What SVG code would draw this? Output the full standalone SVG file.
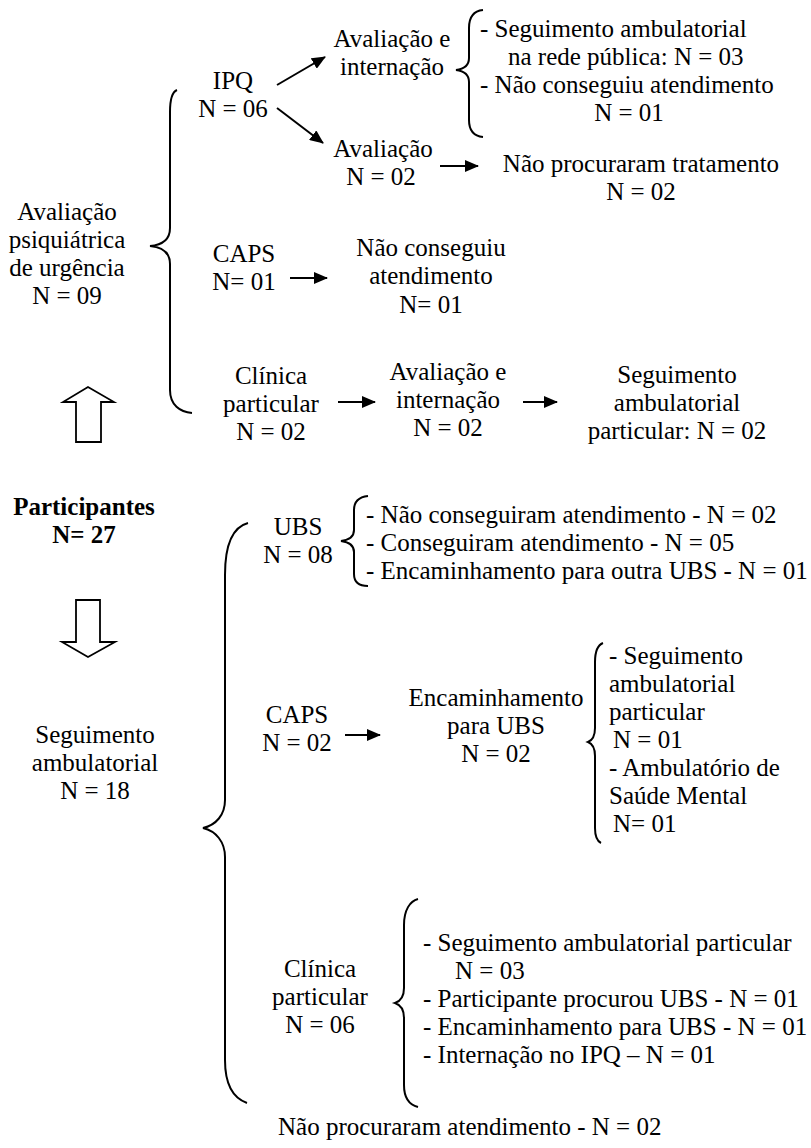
<svg xmlns="http://www.w3.org/2000/svg" width="811" height="1148" viewBox="0 0 811 1148">
<style>
text{font-family:"Liberation Serif","Times New Roman",serif;font-size:25px;fill:#000}
.c{text-anchor:middle}
.b{font-weight:bold}
.br{fill:none;stroke:#000;stroke-width:2}
.ar{fill:none;stroke:#000;stroke-width:2;marker-end:url(#ah)}
.blk{fill:#fff;stroke:#000;stroke-width:1.8}
</style>
<defs>
<marker id="ah" markerUnits="userSpaceOnUse" markerWidth="14" markerHeight="12" refX="13" refY="6" orient="auto">
<path d="M0,0 L14,6 L0,12 z" fill="#000"/>
</marker>
</defs>
<rect width="811" height="1148" fill="#fff"/>

<g id="connectors">
<line class="ar" x1="277" y1="85" x2="325" y2="57"/>
<line class="ar" x1="277" y1="108" x2="323" y2="143"/>
<line class="ar" x1="440" y1="166" x2="478" y2="166"/>
<line class="ar" x1="290" y1="278" x2="327" y2="278"/>
<line class="ar" x1="338" y1="402" x2="375" y2="402"/>
<line class="ar" x1="523" y1="402" x2="557" y2="402"/>
<line class="ar" x1="345" y1="735" x2="380" y2="735"/>
<path class="blk" d="M76,442 L76,402 L63,402 L88,387 L114,402 L101,402 L101,442 Z"/>
<path class="blk" d="M76,600 L100,600 L100,642 L115,642 L88,657 L62,642 L76,642 Z"/>
<path class="br" d="M177,90 C172,92 170,100 170,112 L170,228 C170,240 162,245 150,246 C162,247 170,252 170,264 L170,390 C170,405 180,412 192,413"/>
<path class="br" d="M483,10 C473,11 469,18 469,28 L469,58 C469,65 464,69 456,70 C464,71 469,75 469,82 L469,120 C469,130 473,136 483,137"/>
<path class="br" d="M368,496 C359,497 354,501 354,510 L354,530 C354,537 349,540 341,541 C349,542 354,545 354,552 L354,574 C354,582 359,586 368,586"/>
<path class="br" d="M248,523 C233,527 225,545 225,575 L225,800 C225,815 216,825 203,828 C216,831 225,842 225,857 L225,1060 C225,1085 233,1098 247,1103"/>
<path class="br" d="M603,643 C598,645 595,652 595,662 L595,728 C595,736 593,740 588,742 C593,744 595,748 595,756 L595,828 C595,836 597,841 601,843"/>
<path class="br" d="M418,899 C410,901 404,910 404,925 L404,988 C404,997 401,1001 395,1003 C401,1005 404,1009 404,1018 L404,1085 C404,1098 410,1105 418,1107"/>
</g>

<g id="n-psiq"><text class="c" x="67" y="220">Avaliação</text><text class="c" x="67" y="248">psiquiátrica</text><text class="c" x="67" y="276">de urgência</text><text class="c" x="67" y="304">N = 09</text></g>
<g id="n-ipq"><text class="c" x="233" y="89">IPQ</text><text class="c" x="233" y="117">N = 06</text></g>
<g id="n-ipq-aval-int"><text class="c" x="392" y="47">Avaliação e</text><text class="c" x="392" y="75">internação</text></g>
<g id="n-ipq-aval-int-res"><text x="480" y="37">- Seguimento ambulatorial</text><text x="508" y="65">na rede pública: N = 03</text><text x="480" y="93">- Não conseguiu atendimento</text><text class="c" x="629" y="121">N = 01</text></g>
<g id="n-ipq-aval"><text class="c" x="383" y="157">Avaliação</text><text class="c" x="381" y="185">N = 02</text></g>
<g id="n-ipq-naoproc"><text class="c" x="641" y="172">Não procuraram tratamento</text><text class="c" x="641" y="200">N = 02</text></g>
<g id="n-caps1"><text class="c" x="244" y="262">CAPS</text><text class="c" x="244" y="290">N= 01</text></g>
<g id="n-caps1-res"><text class="c" x="431" y="256">Não conseguiu</text><text class="c" x="431" y="284">atendimento</text><text class="c" x="431" y="313">N= 01</text></g>
<g id="n-clin1"><text class="c" x="271" y="384">Clínica</text><text class="c" x="271" y="412">particular</text><text class="c" x="271" y="440">N = 02</text></g>
<g id="n-clin1-aval"><text class="c" x="448" y="380">Avaliação e</text><text class="c" x="448" y="408">internação</text><text class="c" x="448" y="436">N = 02</text></g>
<g id="n-clin1-seg"><text class="c" x="677" y="383">Seguimento</text><text class="c" x="677" y="411">ambulatorial</text><text class="c" x="677" y="439">particular: N = 02</text></g>
<g id="n-part"><text class="c b" x="84" y="515">Participantes</text><text class="c b" x="84" y="543">N= 27</text></g>
<g id="n-seg"><text class="c" x="95" y="743">Seguimento</text><text class="c" x="95" y="771">ambulatorial</text><text class="c" x="95" y="799">N = 18</text></g>
<g id="n-ubs"><text class="c" x="298" y="535">UBS</text><text class="c" x="298" y="563">N = 08</text></g>
<g id="n-ubs-res"><text x="366" y="523">- Não conseguiram atendimento - N = 02</text><text x="366" y="551">- Conseguiram atendimento - N = 05</text><text x="366" y="579">- Encaminhamento para outra UBS - N = 01</text></g>
<g id="n-caps2"><text class="c" x="297" y="723">CAPS</text><text class="c" x="297" y="751">N = 02</text></g>
<g id="n-caps2-enc"><text class="c" x="496" y="706">Encaminhamento</text><text class="c" x="496" y="734">para UBS</text><text class="c" x="496" y="762">N = 02</text></g>
<g id="n-caps2-res"><text x="609" y="664">- Seguimento</text><text x="609" y="692">ambulatorial</text><text x="609" y="720">particular</text><text x="613" y="748">N = 01</text><text x="609" y="776">- Ambulatório de</text><text x="609" y="804">Saúde Mental</text><text x="613" y="832">N= 01</text></g>
<g id="n-clin2"><text class="c" x="320" y="977">Clínica</text><text class="c" x="320" y="1005">particular</text><text class="c" x="320" y="1033">N = 06</text></g>
<g id="n-clin2-res"><text x="423" y="951">- Seguimento ambulatorial particular</text><text x="455" y="979">N = 03</text><text x="423" y="1007">- Participante procurou UBS - N = 01</text><text x="423" y="1035">- Encaminhamento para UBS - N = 01</text><text x="423" y="1063">- Internação no IPQ – N = 01</text></g>
<g id="n-naoproc"><text x="278" y="1135">Não procuraram atendimento - N = 02</text></g>
</svg>
